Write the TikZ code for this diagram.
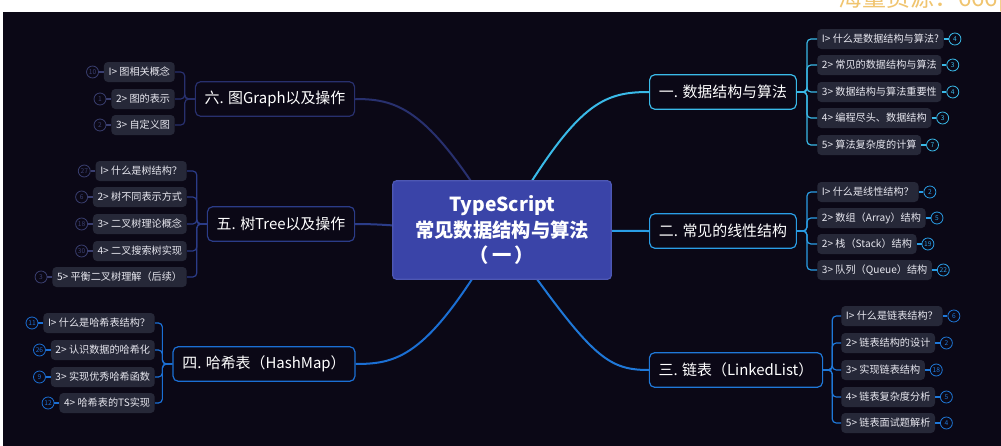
\documentclass[tikz,border=0pt]{standalone}
\usepackage{fontspec}
\setmainfont{Noto Sans CJK SC}
\usepackage{tikz}
\definecolor{night}{RGB}{11, 8, 22}
\definecolor{hubfill}{RGB}{58, 68, 168}
\definecolor{hubline}{RGB}{78, 88, 180}
\definecolor{leaffill}{RGB}{38, 40, 56}
\definecolor{leaftext}{RGB}{232, 232, 240}
\definecolor{promo}{RGB}{240, 196, 110}
\definecolor{cyanone}{RGB}{58, 186, 232}
\definecolor{cyantwo}{RGB}{42, 158, 230}
\definecolor{bluethree}{RGB}{31, 120, 216}
\definecolor{bluefour}{RGB}{27, 111, 212}
\definecolor{navyfive}{RGB}{43, 60, 136}
\definecolor{navysix}{RGB}{40, 48, 110}
\definecolor{dimring}{RGB}{58, 63, 112}
\newcommand{\hubfont}{\fontsize{14.5}{19}\selectfont\bfseries}
\newcommand{\branchfont}{\fontsize{11.2}{13}\selectfont}
\newcommand{\leaffont}{\fontsize{7.6}{9}\selectfont}
\newcommand{\tallyfont}{\fontsize{5}{5}\selectfont}

\begin{document}
\begin{tikzpicture}[x=0.75pt, y=-0.75pt,
    hub/.style={draw=hubline, fill=hubfill, rounded corners=3pt, line width=0.9pt, text=white,
                align=center, font=\hubfont, minimum width=164pt, minimum height=74pt},
    branch/.style={draw=#1, fill=night, rounded corners=4pt, line width=0.9pt, text=white,
                   font=\branchfont, minimum height=26pt, inner xsep=7pt},
    leaf/.style={fill=leaffill, rounded corners=3pt, text=leaftext, font=\leaffont,
                 minimum height=15pt, inner xsep=3.5pt, inner ysep=0pt},
    tally/.style={draw=#1, circle, line width=0.6pt, inner sep=0pt, minimum size=9pt,
                  text=#1, font=\tallyfont},
    limb/.style={draw=#1, line width=1.5pt},
    twig/.style={draw=#1, line width=0.9pt, rounded corners=3pt}]
            % Page & backdrop
            \useasboundingbox                                                 (0, 0) rectangle (1001, 446);
            \fill[white]                                                      (0, 0) rectangle (1001, 446);
            \fill[night]                                                      (3, 12) rectangle (1001, 446);
            \begin{scope}
                \clip                                                         (0, 0) rectangle (1001, 12);
                \node[anchor=base west, text=promo, font=\fontsize{18}{19}\selectfont, inner sep=0pt]
                     (ad) at (838, 7) {海量资源：666p};
            \end{scope}
            % Branches
            \node[branch=cyanone]   (b1) at (723,  92) {一. 数据结构与算法};
            \node[branch=cyantwo]   (b2) at (723, 231) {二. 常见的线性结构};
            \node[branch=bluethree] (b3) at (736, 370) {三. 链表（LinkedList）};
            \node[branch=bluefour]  (b4) at (264, 364) {四. 哈希表（HashMap）};
            \node[branch=navyfive]  (b5) at (281, 224) {五. 树Tree以及操作};
            \node[branch=navysix]   (b6) at (275,  99) {六. 图Graph以及操作};
            % Limbs from the core
            \coordinate (core) at (502, 230);
            \draw[limb=cyanone]   (core) .. controls (575, 105) and (600,  92) .. (b1.west);
            \draw[limb=cyantwo]   (core) .. controls (580, 230) and (600, 231) .. (b2.west);
            \draw[limb=bluethree] (core) .. controls (590, 355) and (605, 370) .. (b3.west);
            \draw[limb=bluefour]  (core) .. controls (430, 355) and (400, 364) .. (b4.east);
            \draw[limb=navyfive]  (core) .. controls (420, 230) and (400, 224) .. (b5.east);
            \draw[limb=navysix]   (core) .. controls (430, 110) and (400,  99) .. (b6.east);
            \node[hub] (hub) at (502, 230) {TypeScript\\常见数据结构与算法\\（\,一\,）};
            % One
            \node[leaf, anchor=west] (a1) at (817,  39) {I> 什么是数据结构与算法?};
            \node[leaf, anchor=west] (a2) at (817,  65) {2> 常见的数据结构与算法};
            \node[leaf, anchor=west] (a3) at (817,  92) {3> 数据结构与算法重要性};
            \node[leaf, anchor=west] (a4) at (817, 118) {4> 编程尽头、数据结构};
            \node[leaf, anchor=west] (a5) at (817, 145) {5> 算法复杂度的计算};
            \foreach \n/\c in {a1/4, a2/3, a3/4, a4/3, a5/7} {
                \draw[twig=cyanone] (b1.east) -- ++(10, 0) |- (\n.west);
                \node[tally=cyanone, anchor=west, xshift=3.5pt] (t\n) at (\n.east) {\c};
                \draw[twig=cyanone] (\n.east) -- (t\n.west);
            }
            % Two
            \node[leaf, anchor=west] (l1) at (817, 192) {I> 什么是线性结构？};
            \node[leaf, anchor=west] (l2) at (817, 218) {2> 数组（Array）结构};
            \node[leaf, anchor=west] (l3) at (817, 244) {2> 栈（Stack）结构};
            \node[leaf, anchor=west] (l4) at (817, 270) {3> 队列（Queue）结构};
            \foreach \n/\c in {l1/2, l2/5, l3/19, l4/22} {
                \draw[twig=cyantwo] (b2.east) -- ++(10, 0) |- (\n.west);
                \node[tally=cyantwo, anchor=west, xshift=3.5pt] (t\n) at (\n.east) {\c};
                \draw[twig=cyantwo] (\n.east) -- (t\n.west);
            }
            % Three
            \node[leaf, anchor=west] (k1) at (841, 316) {I> 什么是链表结构？};
            \node[leaf, anchor=west] (k2) at (841, 343) {2> 链表结构的设计};
            \node[leaf, anchor=west] (k3) at (841, 370) {3> 实现链表结构};
            \node[leaf, anchor=west] (k4) at (841, 397) {4> 链表复杂度分析};
            \node[leaf, anchor=west] (k5) at (841, 423) {5> 链表面试题解析};
            \foreach \n/\c in {k1/6, k2/2, k3/18, k4/5, k5/4} {
                \draw[twig=bluethree] (b3.east) -- ++(9, 0) |- (\n.west);
                \node[tally=bluethree, anchor=west, xshift=3.5pt] (t\n) at (\n.east) {\c};
                \draw[twig=bluethree] (\n.east) -- (t\n.west);
            }
            % Four
            \node[leaf, anchor=east] (h1) at (155, 323) {I> 什么是哈希表结构？};
            \node[leaf, anchor=east] (h2) at (155, 350) {2> 认识数据的哈希化};
            \node[leaf, anchor=east] (h3) at (155, 377) {3> 实现优秀哈希函数};
            \node[leaf, anchor=east] (h4) at (155, 403) {4> 哈希表的TS实现};
            \foreach \n/\c in {h1/11, h2/26, h3/9, h4/12} {
                \draw[twig=bluefour] (b4.west) -- ++(-10, 0) |- (\n.east);
                \node[tally=bluefour, anchor=east, xshift=-3.5pt] (t\n) at (\n.west) {\c};
                \draw[twig=bluefour] (\n.west) -- (t\n.east);
            }
            % Five
            \node[leaf, anchor=east] (r1) at (187, 171) {I> 什么是树结构？};
            \node[leaf, anchor=east] (r2) at (187, 197) {2> 树不同表示方式};
            \node[leaf, anchor=east] (r3) at (187, 224) {3> 二叉树理论概念};
            \node[leaf, anchor=east] (r4) at (187, 251) {4> 二叉搜索树实现};
            \node[leaf, anchor=east] (r5) at (187, 277) {5> 平衡二叉树理解（后续）};
            \foreach \n/\c in {r1/27, r2/6, r3/18, r4/30, r5/3} {
                \draw[twig=navyfive] (b5.west) -- ++(-10, 0) |- (\n.east);
                \node[tally=dimring, anchor=east, xshift=-3.5pt] (t\n) at (\n.west) {\c};
                \draw[twig=dimring] (\n.west) -- (t\n.east);
            }
            % Six
            \node[leaf, anchor=east] (g1) at (175,  72) {I> 图相关概念};
            \node[leaf, anchor=east] (g2) at (175,  99) {2> 图的表示};
            \node[leaf, anchor=east] (g3) at (175, 125) {3> 自定义图};
            \foreach \n/\c in {g1/10, g2/1, g3/2} {
                \draw[twig=navysix] (b6.west) -- ++(-10, 0) |- (\n.east);
                \node[tally=dimring, anchor=east, xshift=-3.5pt] (t\n) at (\n.west) {\c};
                \draw[twig=dimring] (\n.west) -- (t\n.east);
            }
        \end{tikzpicture}
\end{document}
